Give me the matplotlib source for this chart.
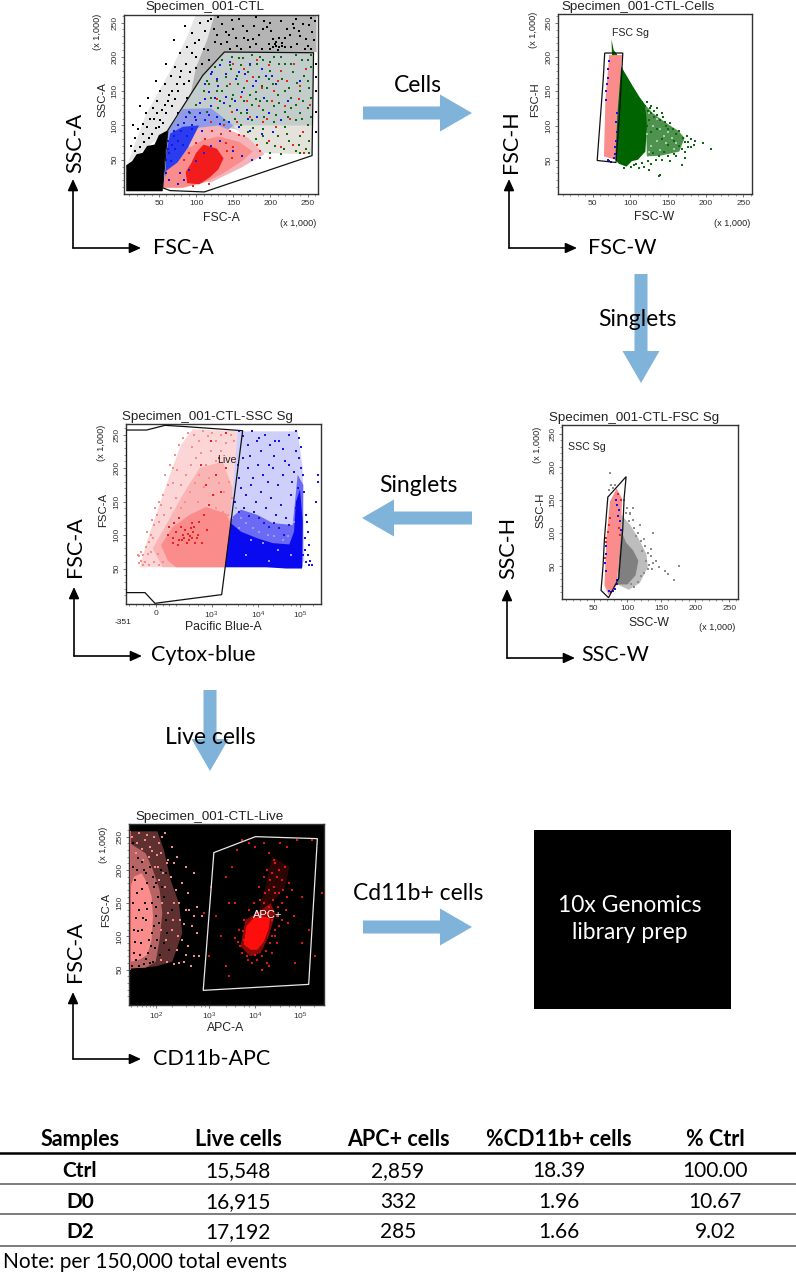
import matplotlib
matplotlib.use("Agg")
import matplotlib.pyplot as plt
import numpy as np
from matplotlib.patches import Polygon, Rectangle

W, H = 796, 1274
PINK = "#fa8c8c"
ARROW = "#7fb3d9"
SMALL = "Liberation Sans"
BIG = "Lato"

# ---- table
table_header = ["Samples", "Live cells", "APC+ cells", "%CD11b+ cells", "% Ctrl"]
table_rows = [["Ctrl", "15,548", "2,859", "18.39", "100.00"],
              ["D0", "16,915", "332", "1.96", "10.67"],
              ["D2", "17,192", "285", "1.66", "9.02"]]

# ---- panel 1, FSC-A / SSC-A
p1_gate = [[55,9],[65,5],[111,3],[256,56],[258,206],[138,207],[109,173],[82,127],[62,93]]
p1_black_fill = [[6,4],[55,4],[58,50],[62,93],[50,86],[44,72],[34,70],[28,60],[20,58],[14,48],[6,42]]
p1_halo = [[8,45],[22,85],[32,115],[50,150],[68,185],[86,225],[100,262],[262,262],[262,207],[138,207],[109,173],[82,127],[62,93]]
p1_band = [[125,262],[262,262],[262,207],[138,207],[109,173],[92,142],[100,185],[115,225]]
p1_mix_upper = [[82,127],[109,173],[138,207],[258,206],[256,70],[200,80],[150,95],[100,105],[72,100]]
p1_mix_lower = [[180,60],[256,58],[256,100],[190,100],[150,100]]
p1_blue_soft = [[60,55],[62,92],[82,124],[120,125],[150,100],[118,70],[85,40]]
p1_blue_fill = [[57,10],[60,60],[65,88],[82,98],[104,100],[90,70],[78,45],[72,20]]
p1_pink_soft = [[90,95],[130,100],[170,82],[192,58],[160,38],[120,17],[90,25]]
p1_pink_fill = [[55,9],[82,9],[112,17],[136,30],[162,48],[176,62],[158,76],[130,84],[108,78],[88,66],[75,46],[60,34]]
p1_red_fill = [[88,16],[104,14],[118,24],[130,36],[137,52],[128,66],[110,72],[100,60],[94,46],[86,32]]
p1_black = np.array([[12,70],[18,82],[22,95],[28,102],[15,100],[32,118],[25,128],[38,110],[42,125],[48,135],[35,140],
    [52,150],[58,160],[46,165],[66,172],[72,185],[60,190],[78,205],[88,215],[70,225],[95,235],[85,245],[105,250],[112,238],
    [120,255],[128,232],[135,248],[142,222],[150,240],[158,255],[165,228],[172,215],[178,245],[185,232],[192,252],[198,218],
    [204,226],[208,222],[212,228],[206,218],[216,220],[222,240],[228,214],[234,255],[240,230],[246,212],[252,246],[258,225],
    [100,200],[110,212],[118,195],[125,222],[92,178],[100,183],[84,160],[76,150],[68,128],[60,118],[52,108],[75,118],[88,140],
    [146,212],[155,216],[163,245],[176,226],[188,212],[196,244],[214,252],[226,232],[236,218],[244,248],[250,216],[256,236],
    [130,258],[140,236],[148,254],[169,238],[181,258],[201,238],[219,214],[232,242],[255,256],[261,170],[261,150],[261,190],[261,120],[261,90],
    [40,88],[46,96],[36,82],[30,76],[24,68],[18,62],[50,98],[56,104],[44,110],[34,98],[28,88],[58,130],[64,145],[72,138],[78,170],[86,190],
    [94,205],[104,225],[108,190],[116,210],[124,240],[134,218],[144,232],[154,228],[160,212],[170,225],[180,218],[190,240],[200,250],[210,210],
    [212,214],[204,214],[200,212],[216,216],[208,216],[220,228],[230,248],[238,238],[248,226],[254,212],[260,252],[116,252],[98,220],[80,180],
    [90,165],[74,160],[68,150],[62,135],[54,122],[47,118]])
p1_green = np.array([[115,165],[125,185],[135,195],[148,200],[160,188],[175,202],[190,195],[205,200],[220,190],[235,203],[250,196],
    [140,170],[155,172],[170,178],[185,170],[200,180],[215,168],[230,178],[245,172],[254,185],[120,140],[135,150],[150,145],
    [165,155],[180,148],[195,155],[210,145],[225,155],[240,150],[252,155],[100,130],[115,120],[130,125],[145,128],[160,118],
    [175,130],[190,122],[205,128],[220,120],[235,130],[250,125],[160,100],[175,108],[190,95],[205,105],[220,98],[235,108],
    [250,100],[180,80],[195,75],[210,85],[225,78],[240,85],[252,78],[200,60],[218,65],[235,62],[248,66],[170,90],[92,118],
    [110,150],[128,165],[147,182],[163,198],[182,190],[198,168],[212,190],[228,140],[243,110],[186,135],[152,110],[137,108],
    [118,160],[128,150],[142,158],[156,160],[172,145],[188,158],[204,160],[220,150],[236,162],[250,165],[145,188],[158,198],[172,188],[186,200],
    [200,192],[214,200],[228,190],[242,195],[254,203],[132,135],[148,138],[164,135],[180,138],[196,135],[212,132],[228,125],[244,135],[255,140],
    [176,96],[192,112],[208,115],[224,112],[240,118],[254,112],[190,85],[206,70],[222,88],[238,72],[214,58],[240,60],[252,60],[168,118]])
p1_blue = np.array([[112,160],[122,178],[132,188],[145,192],[158,178],[172,190],[188,182],[202,172],[118,148],[130,158],[146,160],
    [162,148],[176,158],[192,140],[208,160],[224,135],[90,120],[105,132],[120,128],[138,132],[152,135],[168,122],[182,112],
    [198,118],[214,108],[84,104],[98,112],[112,108],[128,112],[144,105],[158,98],[172,92],[188,88],[204,90],[70,85],[80,92],
    [68,72],[76,78],[88,85],[64,60],[72,65],[82,72],[95,95],[108,92],[150,62],[162,56],[175,50],[186,52],[120,175],[240,165],
    [128,168],[140,175],[154,168],[166,175],[180,165],[194,172],[112,138],[125,140],[140,142],[155,122],[170,110],[105,118],[118,115],[132,102],
    [86,112],[94,100],[100,108],[76,100],[70,92],[62,78],[62,66],[60,50],[66,48],[60,30],[64,20],[75,15],[84,20],[78,30],[90,35],[100,48],[110,60],[120,70],[132,78]])
p1_red = np.array([[150,190],[165,182],[182,195],[198,188],[214,180],[232,190],[248,182],[145,160],[168,165],[188,155],[205,150],
    [222,165],[240,158],[128,138],[148,120],[168,135],[185,128],[202,135],[220,128],[238,138],[253,130],[120,105],[138,100],
    [155,105],[172,112],[190,105],[208,98],[226,110],[244,90],[165,85],[182,72],[198,78],[214,68],[230,72],[245,60],[186,62],[200,52],
    [122,92],[134,88],[146,92],[158,86],[140,75],[150,68],[112,80],[100,75],[142,62],[148,52],[90,60],[84,50],[118,14],[96,12],[160,142],[176,170],[210,165],[195,110]])

# ---- panel 2, FSC-W / FSC-H
p2_gate = [[66,206],[90,206],[86,123],[81,46],[56,49],[64,167]]
p2_green_fill = [[75,226],[78,210],[82,205],[88,186],[103,158],[112,142],[120,130],[122,100],[120,62],[110,50],[102,48],[95,40],[85,44],[80,50]]
p2_tint = [[120,130],[130,118],[150,102],[164,92],[172,82],[165,62],[140,56],[122,55]]
p2_pink_fill = [[72,203],[89,203],[83,118],[80,50],[65,55],[67,138]]
p2_green = np.array([[120,128],[124,122],[128,118],[132,112],[136,116],[140,108],[144,112],[148,100],[152,104],[156,95],[160,88],
    [165,92],[170,82],[175,85],[180,80],[186,78],[196,75],[207,66],[122,100],[128,90],[135,95],[142,80],[150,72],[158,78],[165,70],
    [172,62],[180,68],[130,60],[138,55],[145,62],[152,48],[160,55],[168,42],[172,52],[128,44],[118,40],[125,35],[140,28],[138,26],
    [112,38],[105,42],[100,150],[108,142],[115,135],[122,135],[128,128],[118,118],[125,108],[135,125],[142,118],[176,76],[184,72],[176,68],[168,66],
    [158,58],[150,56],[142,50],[134,50],[124,48],[116,46],[108,44],[101,40],[92,38],[172,76],[150,95],[146,105],[132,122],[126,125]])
p2_white = np.array([[125,118],[130,100],[135,110],[122,88],[140,95],[145,85],[150,90],[128,70],[135,78],[155,82],[140,65],[148,75],[160,75],[125,62],[158,66]])
p2_blue = np.array([[72,195],[71,183],[70,170],[69,160],[68,150],[68,138],[82,118],[81,105],[82,90],[81,78],[80,68],[79,58],[78,52],[72,48],[75,47],[70,50]])

# ---- panel 3, Pacific Blue-A / FSC-A (x in display channels)
p3_ticks = [89, 257, 397, 522]
p3_gate = [[0,257],[62,257],[117,264],[182,262],[322,257],[350,256],[287,11],[117,0],[87,-2],[57,14],[0,14]]
p3_tint = [[42,52],[62,90],[90,130],[128,185],[165,235],[200,258],[348,255],[300,52]]
p3_tint2 = [[110,52],[300,52],[320,170],[290,210],[220,200],[170,160],[120,115],[80,80]]
p3_pink_fill = [[150,52],[298,52],[316,115],[300,132],[240,142],[190,130],[140,112],[105,85],[125,62]]
p3_blue_tint = [[335,255],[440,255],[515,255],[530,200],[535,60],[300,52]]
p3_blue_soft = [[300,52],[530,52],[532,175],[515,190],[500,115],[440,118],[395,130],[345,138],[314,125]]
p3_blue_fill = [[297,52],[420,52],[480,50],[528,50],[530,120],[522,168],[510,150],[504,105],[490,86],[440,88],[395,95],[345,105],[314,118]]
p3_pink = np.array([[40,68],[46,62],[52,70],[58,60],[66,72],[45,75],[70,90],[76,100],[62,105],[85,115],[92,130],[78,122],[105,145],
    [112,160],[98,150],[125,175],[118,190],[132,205],[148,220],[140,200],[160,235],[172,245],[185,252],[198,232],[205,250],[218,240],
    [230,255],[245,248],[258,252],[270,240],[285,250],[300,238],[315,250],[325,240],[165,175],[180,190],[195,205],[210,215],[225,222],
    [240,205],[255,225],[270,210],[285,225],[300,200],[178,150],[192,165],[206,178],[220,190],[235,172],[250,185],[265,160],[280,178],
    [295,165],[308,180],[318,155],[150,155],[135,140],[165,140],[215,150],[270,140],[290,135],[305,130],[318,125],[95,72],[110,60],
    [125,70],[130,90],[85,60],[70,55],[100,56],[50,55],[60,82],[38,58],[35,70],[82,95],[75,75],[100,120],[115,130],[88,140],[152,198],[142,178]])
p3_red = np.array([[125,100],[140,95],[150,105],[160,92],[170,100],[178,108],[185,102],[192,98],[200,105],[205,112],[212,95],[175,95],
    [195,110],[188,92],[220,120],[235,130],[250,145],[262,160],[240,175],[270,190],[225,205],[285,165],[300,200],[255,240],[300,252],
    [278,215],[160,125],[130,112],[145,118],[215,100],[228,88],[242,108],[168,92],[182,88],[198,95],[155,85],[142,88],[208,88],[165,112],[198,118]])
p3_blue = np.array([[340,255],[352,248],[365,235],[378,255],[392,240],[405,225],[418,250],[432,235],[445,218],[458,240],[472,228],
    [490,250],[510,255],[518,245],[525,232],[510,225],[335,205],[350,215],[365,200],[380,185],[395,205],[410,190],[425,180],[440,200],
    [455,175],[470,190],[488,205],[505,195],[524,200],[530,190],[345,170],[360,160],[375,175],[390,150],[405,165],[420,140],[435,155],
    [450,130],[465,145],[480,125],[495,160],[510,140],[535,165],[540,130],[545,105],[550,85],[532,70],[540,60],[552,62],[570,150],[575,180],[577,190],
    [328,150],[338,135],[355,140],[370,128],[385,135],[400,125],[415,118],[430,112],[445,118],[460,110],[475,100],[490,115],
    [340,185],[372,218],[400,245],[428,205],[448,240],[478,210],[498,180],[515,170],[520,215],[538,95],[536,78],[542,120],[545,70],[548,55],[558,55]])
p3_white = np.array([[330,140],[345,125],[360,118],[380,110],[400,105],[425,100],[445,98],[470,92],[485,98],[340,110],[375,92],[412,88],[455,78],[495,70],[360,70],[430,62],[505,120]])

# ---- panel 4, SSC-W / SSC-H
p4_gate = [[71,154],[98,185],[95,152],[93,106],[87,31],[72,2],[61,13],[64,51],[66,91]]
p4_gray_soft = [[90,128],[104,112],[116,92],[128,68],[130,48],[118,24],[102,14],[85,22]]
p4_gray_fill = [[90,105],[98,85],[108,74],[116,58],[112,36],[100,22],[85,22]]
p4_gray = np.array([[74,190],[76,172],[79,168],[73,165],[82,173],[95,150],[100,138],[104,130],[108,120],[102,118],[110,108],[116,100],
    [112,95],[120,88],[126,80],[122,72],[130,70],[135,65],[128,58],[138,55],[142,58],[130,45],[125,40],[136,45],[120,35],[115,25],
    [105,22],[110,18],[146,48],[155,42],[160,38],[168,28],[176,50],[138,100],[108,138],[103,128],[118,112],[98,130],[132,52],[134,75],[125,90]])
p4_pink_fill = [[84,167],[92,152],[90,91],[84,21],[72,6],[66,21],[69,91],[74,147]]
p4_blue = np.array([[83,150],[85,142],[88,135],[86,125],[89,118],[91,105],[68,80],[68,68],[67,55],[68,42],[72,12],[75,10],[78,12],[82,15],[85,22],[84,28]])
p4_red = np.array([[74,122],[72,112],[71,102],[69,92],[68,86],[67,62],[86,158],[90,150],[88,108],[89,96]])

# ---- panel 5, APC-A / FSC-A (x in display channels)
p5_ticks = [81, 241, 380, 515]
p5_gate = [[223,19],[255,226],[380,250],[566,247],[540,28]]
p5_pink_dense = [[5,62],[30,65],[55,72],[68,95],[72,130],[68,160],[55,180],[38,195],[15,190],[5,175]]
p5_pink_mid = [[3,52],[50,53],[80,62],[92,95],[100,135],[92,170],[72,200],[50,225],[3,240]]
p5_pink_tint = [[3,52],[80,55],[130,62],[160,105],[150,150],[125,185],[105,230],[85,258],[3,258]]
p5_strip = [[0,50],[5,50],[5,258],[0,258]]
p5_red_soft = [[335,85],[365,70],[395,75],[420,100],[440,135],[425,150],[385,135],[350,125]]
p5_red_tint = [[385,130],[430,150],[470,175],[482,205],[430,220],[410,175]]
p5_red_blob = [[345,88],[365,80],[385,80],[405,92],[420,112],[424,128],[400,130],[375,128],[352,115]]
p5_pink = np.array([[10,250],[30,255],[48,245],[62,235],[75,250],[90,240],[108,255],[20,225],[42,215],[60,220],[78,205],[96,225],
    [115,210],[130,235],[145,220],[170,205],[90,185],[108,175],[125,190],[142,170],[160,180],[178,165],[195,195],[205,145],[100,150],
    [118,135],[135,150],[152,125],[170,140],[188,115],[205,105],[220,130],[95,110],[112,95],[128,110],[145,80],[160,95],[178,85],
    [195,70],[95,65],[115,62],[135,58],[165,62],[185,55],[210,70],[88,205],[102,195],[118,215],[135,210],[150,150],[165,118],[180,140],[195,130],
    [150,60],[172,72],[148,100],[132,125],[24,240],[40,232],[70,228],[55,252],[85,222],[100,250]])
p5_black_specks = np.array([[12,240],[28,218],[45,200],[18,185],[38,172],[55,180],[70,150],[12,150],[30,140],[52,125],[68,105],[15,110],
    [35,90],[58,75],[22,65],[45,58],[72,62],[85,95],[82,130],[62,205],[25,165],[48,150],[20,128],[40,110],[60,95],[75,175],[88,160],[95,200],[110,125],[120,80],
    [15,75],[32,72],[50,66],[65,85],[78,82],[92,72],[105,90],[12,205],[25,200],[38,212],[50,195],[80,145],[90,120],[75,115],[105,160],[115,105],[130,140],
    [62,60],[30,56],[10,55],[18,92],[42,128],[28,108],[55,142],[72,190],[82,180],[98,175],[110,195]])
p5_red = np.array([[310,205],[325,230],[340,245],[360,240],[380,235],[405,240],[420,225],[435,215],[455,240],[475,235],[505,245],[550,245],
    [415,200],[430,195],[440,210],[445,190],[452,200],[460,185],[470,205],[480,180],[420,170],[435,175],[450,165],[462,170],[475,160],
    [490,170],[405,150],[420,145],[432,155],[448,145],[460,150],[472,140],[385,135],[400,125],[415,135],[430,125],[445,130],[460,125],
    [478,120],[495,130],[345,125],[330,110],[318,98],[335,85],[355,70],[370,60],[385,65],[400,70],[415,60],[430,75],[445,90],[400,50],
    [420,55],[290,55],[275,100],[260,130],[245,175],[300,150],[320,150],[290,190],[520,160],[540,110],[580,165],[560,70],[500,60],
    [360,140],[375,150],[390,175],[405,190],[345,95],[340,75],[430,100],[440,110],[425,90],[520,90],[300,40],[240,70],[225,135],
    [395,155],[410,165],[425,185],[438,165],[415,110],[450,115],[438,100],[328,92],[342,108],[358,65],[378,72],[412,78]])


def text(x, y, s, size=9.6, family=SMALL, color="#222222", rot=0, ha="center", va="center", weight="normal", ls=1.2):
    over.text(x, y, s, fontsize=size, family=family, color=color, rotation=rot, ha=ha, va=va, fontweight=weight,
              linespacing=ls, zorder=20)


def block_arrow(x0, y0, x1, y1):
    # shaft 13 px, head 37 wide and 32 long, as in the slide
    d = np.array([x1 - x0, y1 - y0], dtype=float)
    d = d / np.hypot(*d)
    n = np.array([-d[1], d[0]])
    a, b = np.array([x0, y0], dtype=float), np.array([x1, y1], dtype=float)
    n1, n2 = n * 6.5, n * 18.5
    neck = b - d * 32
    over.add_patch(Polygon([a + n1, neck + n1, neck + n2, b, neck - n2, neck - n1, a - n1],
                           facecolor=ARROW, edgecolor="none", zorder=3))


def axis_arrows(cx, cy, top, right):
    for end in [(cx, top), (right, cy)]:
        over.annotate("", xy=end, xytext=(cx, cy),
                      arrowprops=dict(arrowstyle="-|>,head_length=0.62,head_width=0.28", color="black", lw=1.2,
                                      shrinkA=0, shrinkB=0, mutation_scale=11))


def panel(left, right, top, bottom, xlim, ylim, xticks, xlabels, face="white"):
    ax = fig.add_axes([left / W, 1 - bottom / H, (right - left) / W, (bottom - top) / H], facecolor=face)
    ax.set_xlim(*xlim)
    ax.set_ylim(*ylim)
    ax.set_xticks(xticks)
    ax.set_xticklabels(xlabels, fontsize=6, family=SMALL, color="#333333")
    ax.set_yticks([50, 100, 150, 200, 250])
    ax.set_yticklabels(["50", "100", "150", "200", "250"], fontsize=6, family=SMALL, color="#333333",
                       rotation=90, va="center")
    ax.tick_params(length=2.5, width=0.5, pad=1.5, color="#444444")
    for sp in ax.spines.values():
        sp.set_linewidth(1.0)
        sp.set_color("#333333")
    return ax


def linear_minor(ax):
    ax.set_xticks(np.arange(10, 262, 10), minor=True)
    ax.set_yticks(np.arange(10, 262, 10), minor=True)
    ax.tick_params(which="minor", length=1.5, width=0.4, color="#444444")


def fill(ax, pts, color, z=1):
    ax.add_patch(Polygon(pts, closed=True, facecolor=color, edgecolor="none", zorder=z))


def dots(ax, pts, color, s=1.6, z=2):
    ax.scatter(pts[:, 0], pts[:, 1], s=s, c=color, marker="s", linewidths=0, zorder=z)


def gate(ax, pts, color="#111111", lw=0.9):
    ax.add_patch(Polygon(pts, closed=True, facecolor="none", edgecolor=color, lw=lw, zorder=5))


fig = plt.figure(figsize=(W / 100, H / 100), dpi=100, facecolor="white")
over = fig.add_axes([0, 0, 1, 1], zorder=10)
over.set_xlim(0, W)
over.set_ylim(H, 0)
over.axis("off")
over.patch.set_alpha(0)

tk = [50, 100, 150, 200, 250]
tkl = ["50", "100", "150", "200", "250"]

# panel 1
ax = panel(124, 318, 15, 194, (3, 264), (0, 261), tk, tkl)
linear_minor(ax)
fill(ax, p1_halo, "#e6e6e6")
fill(ax, p1_band, "#b4b4b4")
fill(ax, p1_mix_upper, "#c3cdcb")
fill(ax, p1_mix_lower, "#e4e2da")
fill(ax, p1_blue_soft, "#8f9be6")
fill(ax, p1_pink_soft, "#f3b3b8")
fill(ax, p1_blue_fill, "#2a3cee")
fill(ax, p1_pink_fill, PINK)
fill(ax, p1_red_fill, "#f21c1c")
fill(ax, p1_black_fill, "black")
dots(ax, p1_black, "black", 2.2)
dots(ax, p1_green, "#0b6b0b", 2.2)
dots(ax, p1_blue, "#1414ee", 2.2)
dots(ax, p1_red, "#f02020", 2.2)
gate(ax, p1_gate)

# panel 2
ax = panel(558, 752, 14, 194, (4, 261.5), (0, 263), tk, tkl)
linear_minor(ax)
fill(ax, p2_tint, "#4f914f")
fill(ax, p2_green_fill, "#006400")
dots(ax, p2_green, "#0b6b0b", 2)
dots(ax, p2_white, "#a9cca9", 1.6)
fill(ax, p2_pink_fill, PINK, 3)
dots(ax, p2_blue, "#1414ee", 2, 4)
gate(ax, p2_gate)

# panel 3
ax = panel(126, 321, 424, 604, (0, 585), (-3, 266), p3_ticks,
           [r"0", r"$\mathregular{10^{3}}$", r"$\mathregular{10^{4}}$", r"$\mathregular{10^{5}}$"])
ax.set_yticks(np.arange(10, 262, 10), minor=True)
ax.set_xticks([10, 30, 50, 70, 110, 130, 150, 190, 215, 235, 300, 335, 360, 380, 440, 470, 495, 510, 560], minor=True)
ax.tick_params(which="minor", length=1.5, width=0.4, color="#444444")
fill(ax, p3_tint, "#fcd6d6")
fill(ax, p3_tint2, "#fbb4b4")
fill(ax, p3_blue_tint, "#cfcffb")
fill(ax, p3_blue_soft, "#6a6af4")
fill(ax, p3_pink_fill, PINK)
fill(ax, p3_blue_fill, "#0a0af0")
dots(ax, p3_pink, PINK, 2)
dots(ax, p3_red, "#f02020", 2)
dots(ax, p3_blue, "#1414ee", 2)
dots(ax, p3_white, "#9a9af8", 1.6)
gate(ax, p3_gate)

# panel 4
ax = panel(562, 738, 425, 599, (3.4, 263), (0, 263), tk, tkl)
linear_minor(ax)
fill(ax, p4_gray_soft, "#bdbdbd")
fill(ax, p4_gray_fill, "#808080")
dots(ax, p4_gray, "#8c8c8c", 1.5)
fill(ax, p4_pink_fill, PINK, 3)
dots(ax, p4_blue, "#1414ee", 2, 4)
dots(ax, p4_red, "#f02020", 1.6, 4)
gate(ax, p4_gate)

# panel 5
ax = panel(129, 324, 824, 1005, (0, 586), (-3, 269), p5_ticks,
           [r"$\mathregular{10^{2}}$", r"$\mathregular{10^{3}}$", r"$\mathregular{10^{4}}$", r"$\mathregular{10^{5}}$"],
           face="black")
ax.set_yticks(np.arange(10, 262, 10), minor=True)
ax.set_xticks([5, 25, 40, 52, 62, 72, 130, 170, 195, 215, 228, 290, 320, 345, 360, 425, 455, 480, 500, 555], minor=True)
ax.tick_params(which="minor", length=1.5, width=0.4, color="#444444")
fill(ax, p5_pink_tint, "#5e3030")
fill(ax, p5_pink_mid, "#b86464")
fill(ax, p5_pink_dense, PINK)
fill(ax, p5_strip, "#f86a6a")
dots(ax, p5_pink, PINK, 2)
dots(ax, p5_black_specks, "black", 1.8)
fill(ax, p5_red_tint, "#2c0404")
fill(ax, p5_red_soft, "#8a0a0a")
dots(ax, p5_red, "#e81414", 1.8)
fill(ax, p5_red_blob, "#ff0d0d", 3)
gate(ax, p5_gate, "#e8e8e8", 0.9)

# flow-panel texts
text(205, 7, "Specimen_001-CTL")
text(221, 218, "FSC-A", 8.8)
text(102, 100, "SSC-A", 8.2, rot=90)
text(298, 223, "(x 1,000)", 6.6)
text(98, 32, "(x 1,000)", 6.6, rot=90)

text(638, 7, "Specimen_001-CTL-Cells")
text(654, 217, "FSC-W", 8.8)
text(535, 100, "FSC-H", 8.2, rot=90)
text(732, 223, "(x 1,000)", 6.6)
text(534, 30, "(x 1,000)", 6.6, rot=90)
text(630, 33, "FSC Sg", 7.6)

text(207, 417, "Specimen_001-CTL-SSC Sg")
text(223, 627, "Pacific Blue-A", 8.8)
text(103, 510, "FSC-A", 8.2, rot=90)
text(101, 443, "(x 1,000)", 6.6, rot=90)
text(123, 623, "-351", 6)
text(227, 460, "Live", 7.6)

text(634, 418, "Specimen_001-CTL-FSC Sg")
text(649, 623, "SSC-W", 8.8)
text(540, 510, "SSC-H", 8.2, rot=90)
text(717, 628, "(x 1,000)", 6.6)
text(537, 445, "(x 1,000)", 6.6, rot=90)
text(587, 447, "SSC Sg", 7.6)

text(210, 817, "Specimen_001-CTL-Live")
text(226, 1028, "APC-A", 8.8)
text(106, 910, "FSC-A", 8.2, rot=90)
text(103, 845, "(x 1,000)", 6.6, rot=90)
text(268, 915, "APC+", 8, color="white")

# big axis names and arrows
for x, y, s, rot in [(75, 143, "SSC-A", 90), (183, 248, "FSC-A", 0), (511, 142, "FSC-H", 90), (622, 248, "FSC-W", 0),
                     (75, 547, "FSC-A", 90), (203, 655, "Cytox-blue", 0), (508, 548, "SSC-H", 90), (615, 655, "SSC-W", 0),
                     (75, 952, "FSC-A", 90), (212, 1059, "CD11b-APC", 0)]:
    text(x, y, s, 15.5, BIG, "black", rot)
axis_arrows(73, 248, 179, 141)
axis_arrows(509, 248, 179, 577)
axis_arrows(74, 656, 587, 142)
axis_arrows(507, 658, 589, 575)
axis_arrows(73, 1059, 992, 141)

block_arrow(363, 113, 472, 113)
block_arrow(641, 274, 641, 383)
block_arrow(472, 518, 362, 518)
block_arrow(210, 690, 210, 771)
block_arrow(363, 927, 472, 927)
text(418, 85, "Cells", 16.5, BIG, "black")
text(637, 320, "Singlets", 16.5, BIG, "black")
text(418, 486, "Singlets", 16.5, BIG, "black")
text(210, 737, "Live cells", 16.5, BIG, "black")
text(418, 893, "Cd11b+ cells", 16.5, BIG, "black")

over.add_patch(Rectangle((534, 830), 197, 179, facecolor="black", edgecolor="none"))
text(630, 919, "10x Genomics\nlibrary prep", 16.5, BIG, "white", ls=1.35)

# table
col_x = [80, 238, 398, 559, 715]
row_y = [1171, 1202, 1232]
for x, s in zip(col_x, table_header):
    text(x, 1139, s, 15.5, BIG, "black", weight="bold")
for y, row in zip(row_y, table_rows):
    for j, (x, s) in enumerate(zip(col_x, row)):
        text(x, y, s, 15, BIG, "black", weight="bold" if j == 0 else "normal")
over.plot([0, 796], [1153, 1153], color="black", lw=1.8)
for y in [1184, 1214, 1246]:
    over.plot([0, 796], [y, y], color="#666666", lw=1.2)
text(3, 1262, "Note: per 150,000 total events", 15, BIG, "black", ha="left")

fig.savefig("out.png", dpi=100)
